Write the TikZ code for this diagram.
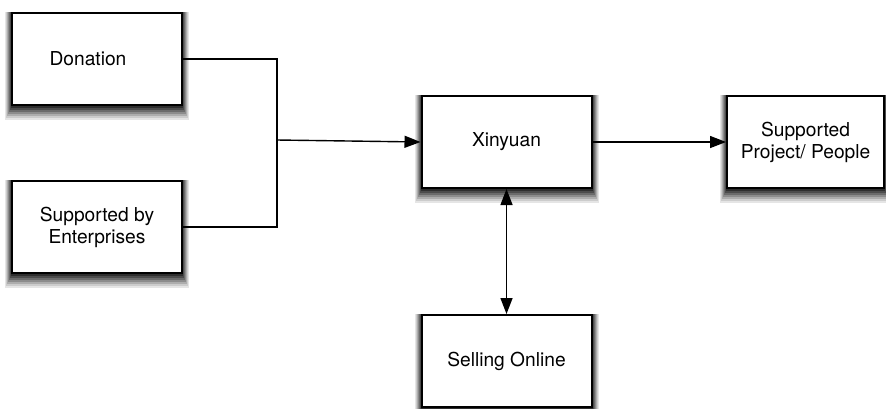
\documentclass[tikz,border=0pt]{standalone}
\usepackage{fontspec}
\setmainfont{TeX Gyre Heros}
\usetikzlibrary{arrows.meta,positioning,backgrounds}

\begin{document}
\begin{tikzpicture}[x=0.5pt,y=-0.5pt,
  block/.style={rectangle, draw=black, line width=1pt, fill=white, align=center,
    minimum width=85pt, minimum height=46pt, font=\fontsize{9.6}{11}\selectfont},
  link/.style={line width=0.7pt, -{Triangle[length=8pt,width=6pt]}}]
\useasboundingbox (0,0) rectangle (886,408);

\node (don) [block] at (97,59) {Donation\hspace{9pt}};
\node (ent) [block] at (97,227) {Supported by\\Enterprises};
\node (xin) [block] at (506.5,142) {Xinyuan};
\node (sup) [block, minimum width=78.5pt] at (805.5,142) {Supported\\Project/ People};
\node (sell) [block] at (506.5,361) {Selling Online};

% soft shadows under the boxes
\begin{scope}[on background layer]
\foreach \n in {don,ent,xin,sup,sell}
  \foreach \s/\d/\c in {3pt/7pt/black!10,2.5pt/6pt/black!20,2pt/5pt/black!32,1.5pt/4pt/black!45,1pt/3pt/black!58,0.5pt/2pt/black!70,0pt/1pt/black!82}
    \fill [\c] ([xshift=-\s, yshift=-\d]\n.south west) rectangle ([xshift=\s]\n.north east);
\end{scope}

\coordinate (join) at (277,140);
\draw [line width=0.7pt] (don.east) -| (join);
\draw [line width=0.7pt] (ent.east) -| (join);
\draw [link] (join) -- (xin.west);
\draw [link] (xin.east) -- (sup.west);
\draw [link, {Triangle[length=8pt,width=6pt]}-{Triangle[length=8pt,width=6pt]}] (xin.south) -- (sell.north);
\end{tikzpicture}
\end{document}
